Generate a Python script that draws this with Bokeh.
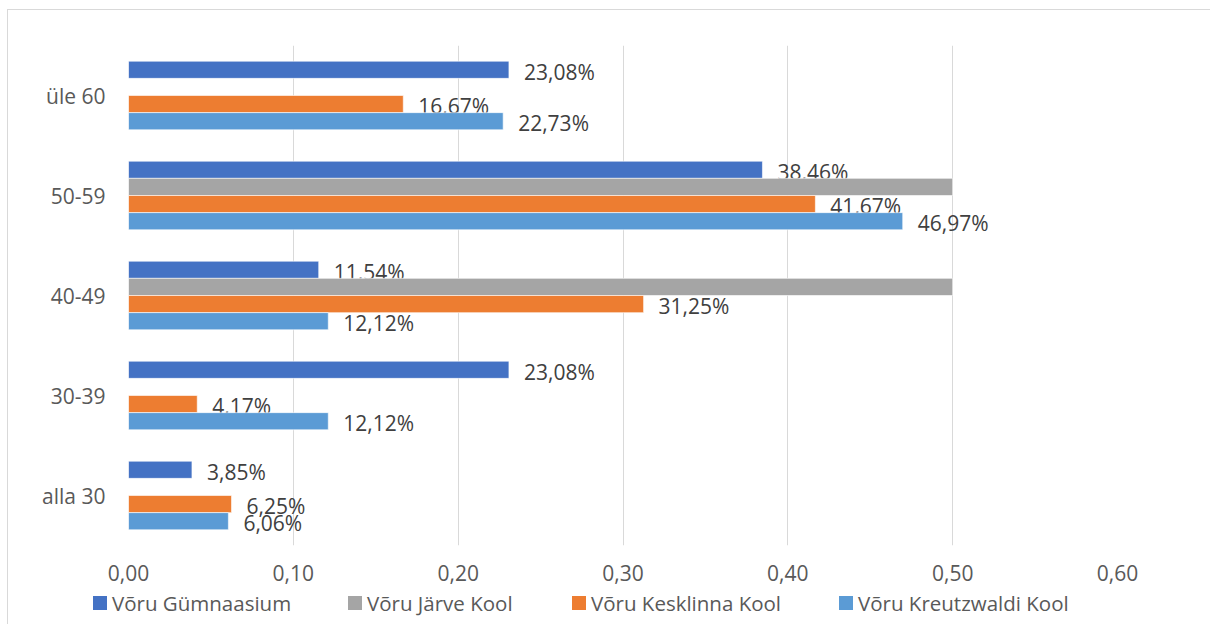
from bokeh.plotting import figure
from bokeh.models import FactorRange, Range1d, FixedTicker, ColumnDataSource, Div
from bokeh.layouts import column
from bokeh.transform import dodge
from bokeh.core.properties import value
from bokeh.embed import file_html
from bokeh.resources import INLINE

categories = ["alla 30", "30-39", "40-49", "50-59", "üle 60"]
series_names = ["Võru Gümnaasium", "Võru Järve Kool", "Võru Kesklinna Kool", "Võru Kreutzwaldi Kool"]
gymnaasium = [0.0385, 0.2308, 0.1154, 0.3846, 0.2308]
jarve = [0.0, 0.0, 0.5, 0.5, 0.0]
kesklinna = [0.0625, 0.0417, 0.3125, 0.4167, 0.1667]
kreutzwaldi = [0.0606, 0.1212, 0.1212, 0.4697, 0.2273]
series_values = [gymnaasium, jarve, kesklinna, kreutzwaldi]
series_colors = ["#4472C4", "#A5A5A5", "#ED7D31", "#5B9BD5"]
show_labels = [True, False, True, True]
tick_values = [0.0, 0.1, 0.2, 0.3, 0.4, 0.5, 0.6]
tick_labels = ["0,00", "0,10", "0,20", "0,30", "0,40", "0,50", "0,60"]

FONT = "Open Sans"
BAR_H = 0.1715
offsets = [1.5 * BAR_H, 0.5 * BAR_H, -0.5 * BAR_H, -1.5 * BAR_H]

p = figure(y_range=FactorRange(*categories), x_range=Range1d(0, 0.6),
           width=1210, height=624, output_backend="svg", toolbar_location=None,
           min_border_left=128, min_border_right=93, min_border_top=45, min_border_bottom=79)
p.border_fill_color = None
p.background_fill_color = "white"
p.styles = {"background": "linear-gradient(#d9d9d9,#d9d9d9) 7px 9px / 1px 100% no-repeat, "
                          "linear-gradient(#d9d9d9,#d9d9d9) 7px 9px / 100% 1px no-repeat, #ffffff"}
p.outline_line_color = None
p.y_range.range_padding = 0
p.xgrid.grid_line_color = "#d9d9d9"
p.xgrid.grid_line_width = 1
p.ygrid.grid_line_color = None

p.xaxis.ticker = FixedTicker(ticks=tick_values)
p.xaxis.major_label_overrides = {t: l for t, l in zip(tick_values, tick_labels)}
for ax in (p.xaxis[0], p.yaxis[0]):
    ax.axis_line_color = None
    ax.major_tick_line_color = None
    ax.minor_tick_line_color = None
    ax.major_tick_out = 0
    ax.major_tick_in = 0
    ax.major_label_text_font = FONT
    ax.major_label_text_font_size = "21px"
    ax.major_label_text_color = "#595959"
p.xaxis.major_label_standoff = 19
p.yaxis.major_label_standoff = 23

for name, vals, col, off, lab in zip(series_names, series_values, series_colors, offsets, show_labels):
    src = ColumnDataSource(dict(cat=categories, v=vals))
    p.hbar(y=dodge("cat", off, range=p.y_range), left=0, right="v", height=BAR_H,
           source=src, fill_color=col, line_color="white", line_width=0.6)
    if lab:
        cats_l = [c for c, v in zip(categories, vals) if v > 0]
        vals_l = [v for v in vals if v > 0]
        txt = [("%.2f%%" % (v * 100)).replace(".", ",") for v in vals_l]
        lsrc = ColumnDataSource(dict(cat=cats_l, v=vals_l, t=txt))
        p.text(x="v", y=dodge("cat", off, range=p.y_range), text="t", source=lsrc,
               x_offset=15, y_offset=2, text_align="left", text_baseline="middle",
               text_font=value(FONT), text_font_size="21px", text_color="#404040")

# legend drawn as an HTML strip just under the axis labels
legend_x = [93, 348, 572, 839]
parts = []
for name, col, lx in zip(series_names, series_colors, legend_x):
    parts.append('<span style="position:absolute;left:%dpx;top:8px;width:14px;height:14px;'
                 'background:%s"></span>' % (lx, col))
    parts.append('<span style="position:absolute;left:%dpx;top:0px;line-height:30px;'
                 'white-space:nowrap">%s</span>' % (lx + 19, name))
html = ('<div style="position:relative;width:1210px;height:30px;font-family:\'Open Sans\';'
        'font-size:20.5px;color:#595959">' + "".join(parts) + '</div>')
legend_div = Div(text=html, width=1210, height=30, margin=(-36, 0, 0, 0))

layout = column(p, legend_div, spacing=0)

open("out.html", "w").write(file_html(layout, INLINE))
